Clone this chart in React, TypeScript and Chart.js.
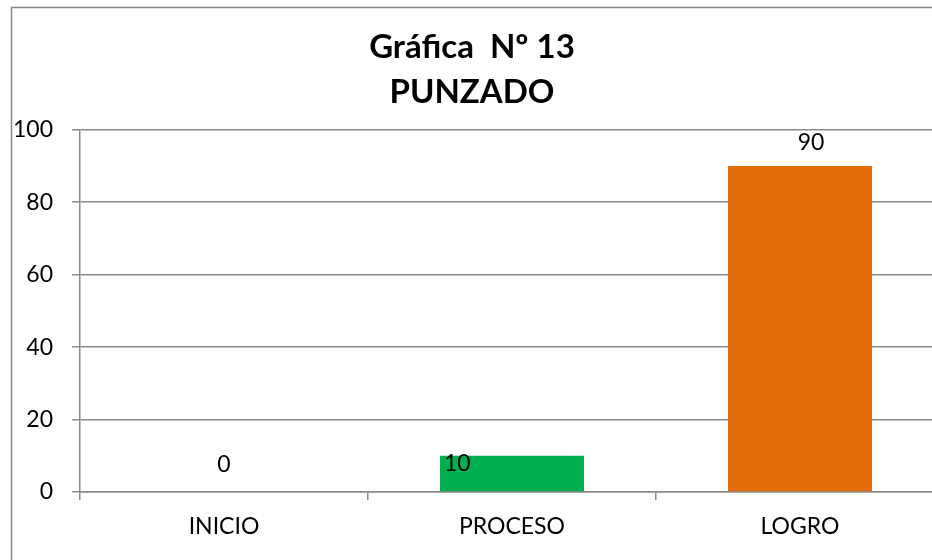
import React, { useEffect, useRef } from "react";
import { Chart, registerables } from "chart.js";

Chart.register(...registerables);

const categories = ["INICIO", "PROCESO", "LOGRO"];
const values = [0, 10, 90];
const barColors = ["#4F81BD", "#00B050", "#E36C0A"];
const yTicks = [0, 20, 40, 60, 80, 100];
const titleLines = ["Gráfica  Nº 13", "PUNZADO"];

const FONT = "Lato, 'Open Sans', sans-serif";
const GRID = "#8a8a8a";

const framePlugin = {
  id: "frame",
  beforeDraw(chart: any) {
    const ctx = chart.ctx;
    ctx.save();
    ctx.fillStyle = "#ffffff";
    ctx.fillRect(0, 0, chart.width, chart.height);
    ctx.strokeStyle = "#878787";
    ctx.lineWidth = 1.5;
    ctx.strokeRect(11.5, 7.5, chart.width + 20, chart.height + 20);
    ctx.restore();
  },
};

const labelPlugin = {
  id: "valueLabels",
  afterDatasetsDraw(chart: any) {
    const ctx = chart.ctx;
    const meta = chart.getDatasetMeta(0);
    ctx.save();
    ctx.fillStyle = "#000";
    ctx.font = `23px ${FONT}`;
    ctx.textBaseline = "middle";
    meta.data.forEach((bar: any, i: number) => {
      const txt = String(values[i]);
      if (i === 1) {
        ctx.textAlign = "left";
        ctx.fillText(txt, bar.x - bar.width / 2 + 4, bar.y + 8);
      } else {
        ctx.textAlign = "center";
        ctx.fillText(txt, bar.x + (i === 2 ? 11 : 0), bar.y - (i === 0 ? 27 : 23));
      }
    });
    ctx.restore();
  },
};

export default function App() {
  const ref = useRef<HTMLCanvasElement>(null);
  useEffect(() => {
    if (!ref.current) return;
    const chart = new Chart(ref.current, {
      type: "bar",
      data: {
        labels: categories,
        datasets: [
          {
            data: values,
            backgroundColor: barColors,
            barPercentage: 0.5,
            categoryPercentage: 1,
          },
        ],
      },
      plugins: [framePlugin, labelPlugin],
      options: {
        animation: false,
        responsive: false,
        maintainAspectRatio: false,
        layout: { padding: { left: 0, right: 36, top: 0, bottom: 48 } },
        plugins: {
          legend: { display: false },
          tooltip: { enabled: false },
          title: {
            display: true,
            text: titleLines,
            color: "#000",
            font: { family: FONT, size: 33, weight: "bold", lineHeight: 1.36 },
            padding: { top: 25, bottom: 15 },
          },
        },
        scales: {
          x: {
            offset: true,
            grid: {
              offset: true,
              drawOnChartArea: false,
              drawTicks: true,
              tickLength: 8,
              color: GRID,
              lineWidth: 1.5,
            },
            border: { display: true, color: GRID, width: 1.5 },
            ticks: { color: "#000", font: { family: FONT, size: 23 }, padding: 13 },
            afterFit(scale: any) {
              scale.height = 60;
            },
          },
          y: {
            min: 0,
            max: 100,
            afterBuildTicks(scale: any) {
              scale.ticks = yTicks.map((v) => ({ value: v }));
            },
            grid: { color: GRID, lineWidth: 1.5, tickLength: 8, drawTicks: true },
            border: { display: true, color: GRID, width: 1.5 },
            ticks: { color: "#000", font: { family: FONT, size: 23 }, padding: 19 },
            afterFit(scale: any) {
              scale.width = 80;
            },
          },
        },
      },
    });
    return () => chart.destroy();
  }, []);
  return (
    <div
      style={{
        position: "absolute",
        left: 0,
        top: 0,
        width: 932,
        height: 560,
        overflow: "hidden",
        background: "#fff",
      }}
    >
      <canvas ref={ref} width={980} height={600} style={{ display: "block" }} />
    </div>
  );
}
